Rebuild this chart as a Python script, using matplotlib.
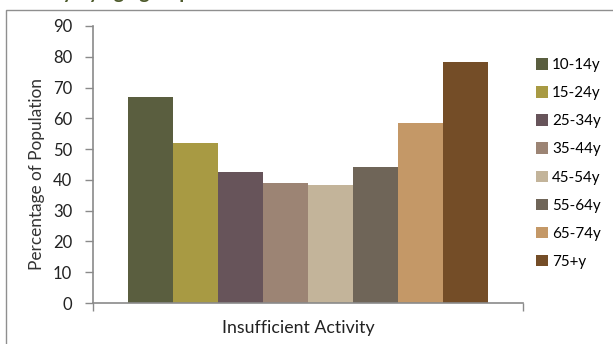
import matplotlib
matplotlib.use("Agg")
import matplotlib.pyplot as plt
from matplotlib.patches import Rectangle, Patch

plt.rcParams['font.family'] = ['Lato', 'DejaVu Sans']

age_groups = ["10-14y", "15-24y", "25-34y", "35-44y", "45-54y", "55-64y", "65-74y", "75+y"]
values = [67, 52, 42.7, 38.9, 38.2, 44.3, 58.6, 78.2]
colors = ["#5a5e3f", "#a89a43", "#67545a", "#9c8474", "#c3b49a", "#6f6558", "#c49867", "#744d27"]
category = "Insufficient Activity"
yticks = [0, 10, 20, 30, 40, 50, 60, 70, 80, 90]

W, H = 613, 344
fig = plt.figure(figsize=(W / 100, H / 100), dpi=100)

# outer frame
fig.patches.append(Rectangle((6 / W, -0.1), 1.2, (H - 10) / H + 0.1, transform=fig.transFigure,
                             fill=False, edgecolor="#8f8f8f", linewidth=1.0))
# cropped title at top (only descenders visible, as in the reference)
fig.text(5 / W, 1.0 + 1 / H, "Activity by age group", color="#4e5b2c", fontsize=14,
         fontweight="bold", ha="left", va="baseline")

ax = fig.add_axes([93 / W, 41 / H, 430 / W, 277 / H])
x = list(range(len(values)))
ax.bar(x, values, width=1.0, color=colors, edgecolor="none")
ax.set_xlim(-0.5 - 35 / 45, 7.5 + 35 / 45)
ax.set_ylim(0, 90)
ax.set_yticks(yticks)
ax.set_yticklabels([str(t) for t in yticks], fontsize=12, color="#222222")
ax.set_xticks([-0.5 - 35 / 45, 7.5 + 35 / 45])
ax.set_xticklabels(["", ""])
for s in ["top", "right"]:
    ax.spines[s].set_visible(False)
for s in ["left", "bottom"]:
    ax.spines[s].set_color("#8a8a8a")
    ax.spines[s].set_linewidth(1.2)
ax.tick_params(axis="both", direction="out", length=6, color="#8a8a8a", width=1.0, pad=9)
ax.set_ylabel("Percentage of Population", fontsize=12.4, color="#333333")
ax.yaxis.set_label_coords(-(93 - 45) / 430, (303 - 174) / 277)
ax.set_xlabel(category, fontsize=12.8, color="#222222")
ax.xaxis.set_label_coords((298 - 93) / 430, -(320 - 303) / 277)

handles = [Patch(facecolor=c, edgecolor="none") for c in colors]
leg = fig.legend(handles, age_groups, loc="upper left", bbox_to_anchor=(536 / W, 1 - 58 / H),
                 frameon=False, fontsize=10.9, handlelength=0.8, handleheight=0.8,
                 handletextpad=0.25, labelspacing=0.93, borderaxespad=0, borderpad=0)

fig.savefig("out.png", dpi=100)
